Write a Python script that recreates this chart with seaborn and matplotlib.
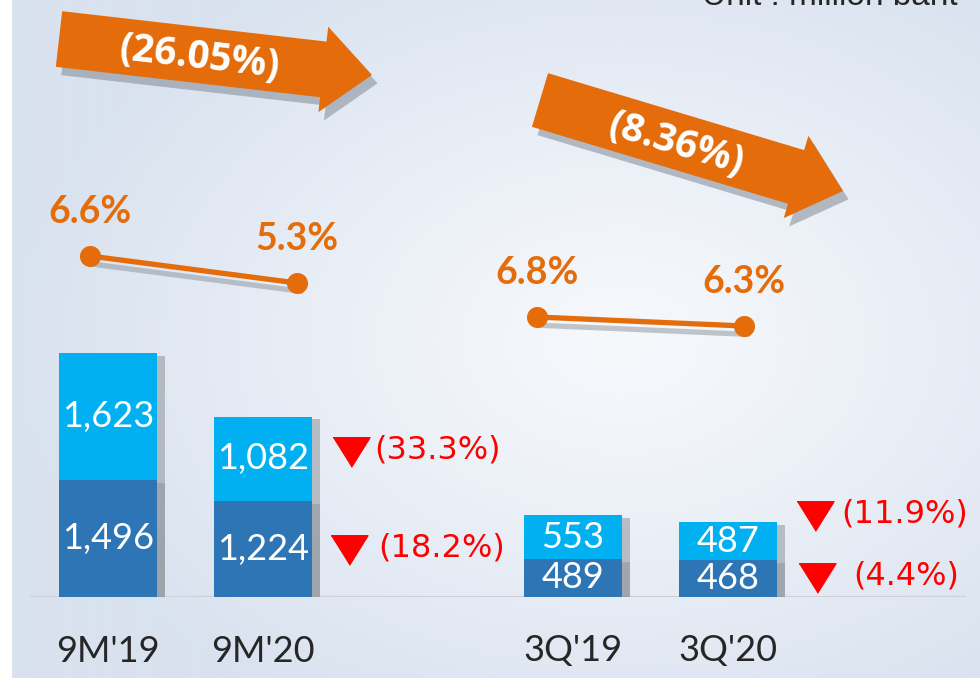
import numpy as np
import pandas as pd
import matplotlib
matplotlib.use("Agg")
import matplotlib.pyplot as plt
import seaborn as sns
import matplotlib.patheffects as pe
from matplotlib.patches import FancyArrow
from matplotlib.transforms import ScaledTranslation

# ---------------- data ----------------
categories = ["9M'19", "9M'20", "3Q'19", "3Q'20"]
bottom_vals = [1496, 1224, 489, 468]
top_vals = [1623, 1082, 553, 487]
margin_9m = [6.6, 5.3]
margin_3q = [6.8, 6.3]
margin_labels_9m = ["6.6%", "5.3%"]
margin_labels_3q = ["6.8%", "6.3%"]
change_top = {"9M'20": "(33.3%)", "3Q'20": "(11.9%)"}
change_bottom = {"9M'20": "(18.2%)", "3Q'20": "(4.4%)"}
growth_labels = ["(26.05%)", "(8.36%)"]
unit_label = "Unit : million baht"

DARK = "#2E75B6"
LIGHT = "#00B0F0"
ORANGE = "#E46C0A"
RED = "#FF0000"
TXT = "#262626"

sns.set_theme(style="white")
plt.rcParams["font.family"] = ["Lato", "DejaVu Sans"]

W, H = 980, 678
fig = plt.figure(figsize=(W / 100, H / 100), dpi=100)

# ---------------- background ----------------
bg = fig.add_axes([0, 0, 1, 1], zorder=-10)
yy, xx = np.mgrid[0:H, 0:W]
d = np.sqrt(((xx - 620) / 600) ** 2 + ((yy - 340) / 430) ** 2)
t = np.clip(d, 0, 1) ** 1.2
c_center = np.array([246, 248, 252]) / 255
c_edge = np.array([217, 226, 239]) / 255
img = c_center * (1 - t[..., None]) + c_edge * t[..., None]
img[:, :12] = 1.0
bg.imshow(img, aspect="auto", extent=[0, 1, 0, 1])
bg.set_axis_off()

# ---------------- bars ----------------
px_per_unit = 0.07823
base_px = 597
ax = fig.add_axes([0, (H - base_px) / H, 1, base_px / H])
ax.set_facecolor("none")
df = pd.DataFrame({"cat": categories, "bottom": bottom_vals, "top": top_vals})
df["total"] = df["bottom"] + df["top"]
order = ["9M'19", "9M'20", "", "3Q'19", "3Q'20"]

sns.barplot(data=df, x="cat", y="total", order=order, color=LIGHT, saturation=1,
            width=0.63, errorbar=None, ax=ax, zorder=3)
sns.barplot(data=df, x="cat", y="bottom", order=order, color=DARK, saturation=1,
            width=0.63, errorbar=None, ax=ax, zorder=4)
ax.set_xlim(-108 / 155, (W - 108) / 155)
ax.set_ylim(0, base_px / px_per_unit)

shadow = [pe.SimplePatchShadow(offset=(6, -2), shadow_rgbFace="#8f959c", alpha=0.55), pe.Normal()]
for cont in ax.containers:
    for p in cont:
        p.set_path_effects(shadow)
        p.set_linewidth(0)

top_cont, bot_cont = ax.containers[0], ax.containers[1]
ax.bar_label(bot_cont, labels=[f"{v:,}" for v in bottom_vals], label_type="center",
             color="white", fontsize=26, zorder=6)
bar_info = {}
for p, c, b, tp in zip(bot_cont, categories, bottom_vals, top_vals):
    xc = p.get_x() + p.get_width() / 2
    bar_info[c] = (xc, p.get_x() + p.get_width(), b, tp)
    ax.text(xc, b + tp / 2, f"{tp:,}", ha="center", va="center", color="white",
            fontsize=26, zorder=6)

ax.axhline(0, xmin=30 / W, xmax=965 / W, color="#cdd1d7", lw=1.6, zorder=2)
ax.set_yticks([])
ax.tick_params(axis="x", length=0, pad=27, labelsize=26, labelcolor=TXT)
ax.set_xlabel("")
ax.set_ylabel("")
sns.despine(ax=ax, left=True, bottom=True)

# ---------------- red change annotations ----------------
tri = [(-1, 0.8), (1, 0.8), (0, -0.8)]


def offset(dx, dy):
    return ax.transData + ScaledTranslation(dx / 100, dy / 100, fig.dpi_scale_trans)


ann_offsets = {
    ("9M'20", "top"): (39, 7, 62),
    ("9M'20", "bottom"): (37, -1, 66),
    ("3Q'20", "top"): (38, 25, 64),
    ("3Q'20", "bottom"): (40, 1, 76),
}
for key, lab in list(change_top.items()) + list(change_bottom.items()):
    part = "top" if key in change_top and change_top[key] == lab else "bottom"
    xc, xr, b, tp = bar_info[key]
    yv = b + tp / 2 if part == "top" else b / 2
    tdx, dy, txdx = ann_offsets[(key, part)]
    ax.plot([xr], [yv], marker=tri, ms=26.6, color=RED, mec=RED, ls="none",
            transform=offset(tdx, dy), zorder=7, clip_on=False)
    ax.text(xr, yv, lab, ha="left", va="center", color=RED, fontsize=23,
            family="DejaVu Sans", transform=offset(txdx, dy + 2), zorder=7)

# ---------------- margin lines ----------------
line_shadow = [pe.SimpleLineShadow(offset=(3, -6), shadow_color="#7f8790", alpha=0.45), pe.Normal()]


def margin_axes(x0_px, y_first_px, first_val, ppu, ylo, yhi):
    spacing = 207
    left = x0_px - 0.3 * spacing
    width = 1.6 * spacing
    top_px = y_first_px - (yhi - first_val) * ppu
    height = (yhi - ylo) * ppu
    a = fig.add_axes([left / W, (H - top_px - height) / H, width / W, height / H])
    a.set_xlim(-0.3, 1.3)
    a.set_ylim(ylo, yhi)
    a.set_axis_off()
    a.patch.set_alpha(0)
    return a


lax1 = margin_axes(90, 256, margin_9m[0], 20.77, 4, 8)
lax2 = margin_axes(537, 317, margin_3q[0], 18.0, 5, 8)
for a, vals, labs in [(lax1, margin_9m, margin_labels_9m), (lax2, margin_3q, margin_labels_3q)]:
    sns.lineplot(x=[0, 1], y=vals, ax=a, color=ORANGE, lw=3.8)
    for ln in a.lines:
        ln.set_path_effects(line_shadow)
        ln.set_clip_on(False)
    sns.scatterplot(x=[0, 1], y=vals, ax=a, color=ORANGE, s=230, linewidth=0,
                    zorder=5, clip_on=False)
    for x, v, lab in zip([0, 1], vals, labs):
        a.annotate(lab, (x, v), xytext=(0, 31.5), textcoords="offset points",
                   ha="center", va="center", color=ORANGE, fontsize=27,
                   fontweight="bold", annotation_clip=False)

# ---------------- growth arrows ----------------
arrow_shadow = [pe.SimplePatchShadow(offset=(4, -6), shadow_rgbFace="#7a828c", alpha=0.5), pe.Normal()]
arrows = [((59, 39), (372, 75)), ((540, 100), (843, 191))]
for ((x0, y0), (x1, y1)), lab in zip(arrows, growth_labels):
    X0, Y0 = x0 / 100, (H - y0) / 100
    dx, dy = (x1 - x0) / 100, -(y1 - y0) / 100
    arr = FancyArrow(X0, Y0, dx, dy, width=0.56, head_width=0.86, head_length=0.49,
                     length_includes_head=True, color=ORANGE, lw=0,
                     transform=fig.dpi_scale_trans)
    arr.set_path_effects(arrow_shadow)
    fig.add_artist(arr)
    ang = np.degrees(np.arctan2(dy, dx))
    cx = x0 + 0.45 * (x1 - x0)
    cy = y0 + 0.45 * (y1 - y0)
    fig.text(cx / W, 1 - (cy + 3) / H, lab, rotation=ang, rotation_mode="anchor",
             ha="center", va="center", color="white", fontsize=28,
             fontweight="bold", family="Open Sans")

# ---------------- unit label ----------------
fig.text(958 / W, 1 - 5 / H, unit_label, ha="right", va="baseline", fontsize=24,
         family="Liberation Sans", color=TXT)

fig.savefig("out.png", dpi=100)
